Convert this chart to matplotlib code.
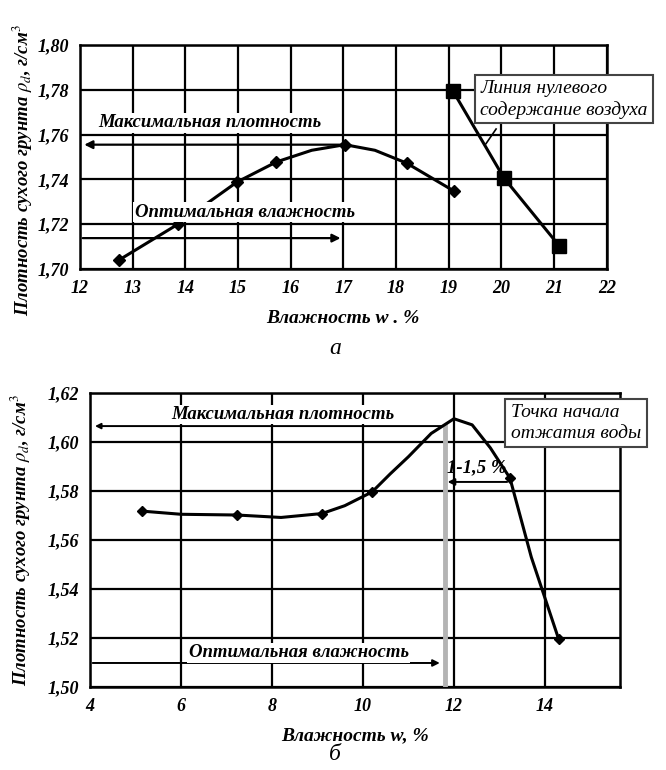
import matplotlib
matplotlib.use("Agg")
import matplotlib.pyplot as plt
from matplotlib.font_manager import FontProperties

plt.rcParams['font.family'] = ['Liberation Serif', 'DejaVu Serif']
plt.rcParams['mathtext.fontset'] = 'stix'

# ---- chart (а) data ----
w_a = [12.74, 13.86, 14.98, 15.73, 16.4, 17.03, 17.6, 18.2, 19.1]
rho_a = [1.704, 1.720, 1.7388, 1.7478, 1.7530, 1.7555, 1.7530, 1.7473, 1.7348]
marks_a = [0, 1, 2, 3, 5, 7, 8]
w_air = [19.08, 20.05, 21.1]
rho_air = [1.7795, 1.7406, 1.7103]
xticks_a = list(range(12, 23))
yticks_a = [1.70, 1.72, 1.74, 1.76, 1.78, 1.80]

# ---- chart (б) data ----
w_b = [5.14, 6.0, 7.23, 8.2, 9.1, 9.6, 10.2, 10.6, 11.0, 11.5, 12.0, 12.4, 12.8, 13.23, 13.7, 14.3]
rho_b = [1.5718, 1.5705, 1.5702, 1.5692, 1.5708, 1.574, 1.5796, 1.587, 1.594, 1.6035,
         1.6095, 1.607, 1.5976, 1.5853, 1.553, 1.5196]
marks_b = [0, 2, 4, 6, 13, 15]
xticks_b = [4, 6, 8, 10, 12, 14]
yticks_b = [1.50, 1.52, 1.54, 1.56, 1.58, 1.60, 1.62]

tickfp = FontProperties(family='Liberation Serif', weight='bold', style='italic', size=13)
lblfont = dict(fontweight='bold', fontstyle='italic', fontsize=13.5)
axfont = dict(fontweight='bold', fontstyle='italic', fontsize=13.5)
boxfont = dict(fontstyle='italic', fontsize=14)
white = dict(facecolor='white', edgecolor='none', pad=1)


def setup(ax, xt, yt, xlim, ylim):
    ax.set_xlim(*xlim)
    ax.set_ylim(*ylim)
    ax.set_xticks(xt)
    ax.set_yticks(yt)
    ax.set_xticklabels([str(v) for v in xt], fontproperties=tickfp)
    ax.set_yticklabels([f"{v:.2f}".replace('.', ',') for v in yt], fontproperties=tickfp)
    ax.tick_params(length=0, pad=8)
    ax.grid(True, color='black', linewidth=1.6)
    ax.set_axisbelow(True)
    for s in ax.spines.values():
        s.set_linewidth(1.8)


fig = plt.figure(figsize=(6.66, 7.70), dpi=100)

# ===== (а) =====
ax1 = fig.add_axes([0.120, 0.6506, 0.791, 0.291])
setup(ax1, xticks_a, yticks_a, (12, 22), (1.70, 1.80))
ax1.plot(w_a, rho_a, color='black', lw=2.2, marker='D', ms=6, markevery=marks_a, zorder=5)
ax1.plot(w_air, rho_air, color='black', lw=2.2, marker='s', ms=10, zorder=5)

ax1.annotate('', xy=(12.03, 1.7555), xytext=(17.03, 1.7555),
             arrowprops=dict(arrowstyle='-|>', color='black', lw=1.6, mutation_scale=12), zorder=4)
ax1.annotate('', xy=(17.0, 1.7138), xytext=(12.0, 1.7138),
             arrowprops=dict(arrowstyle='-|>', color='black', lw=1.6, mutation_scale=12), zorder=4)
ax1.text(14.46, 1.7652, 'Максимальная плотность', ha='center', va='center',
         bbox=white, zorder=6, **lblfont)
ax1.text(15.13, 1.7254, 'Оптимальная влажность', ha='center', va='center',
         bbox=white, zorder=6, **lblfont)
ax1.text(19.60, 1.7757, 'Линия нулевого\nсодержание воздуха', ha='left', va='center',
         linespacing=1.25, clip_on=False, zorder=7,
         bbox=dict(facecolor='white', edgecolor='#444444', lw=1.5, pad=3.5), **boxfont)
ax1.plot([19.90, 19.71], [1.7625, 1.7560], color='black', lw=1.2, zorder=6)

ax1.set_xlabel('Влажность w . %', labelpad=9, fontsize=14, fontweight='bold', fontstyle='italic')
ax1.set_ylabel(r'Плотность сухого грунта $\rho_d$, г/см$^3$', labelpad=10, **axfont)
ax1.yaxis.set_label_coords(-0.085, 0.44)
fig.text(0.503, 0.548, 'а', ha='center', va='center', fontsize=17, fontstyle='italic')

# ===== (б) =====
ax2 = fig.add_axes([0.135, 0.1078, 0.796, 0.3818])
setup(ax2, xticks_b, yticks_b, (4, 15.65), (1.50, 1.62))
ax2.plot(w_b, rho_b, color='black', lw=2.2, marker='D', ms=5, markevery=marks_b, zorder=5)

ax2.plot([11.8, 11.8], [1.50, 1.6065], color='#b4b4b4', lw=3.5, zorder=3)
ax2.annotate('', xy=(4.05, 1.6065), xytext=(11.8, 1.6065),
             arrowprops=dict(arrowstyle='-|>', color='black', lw=1.4, mutation_scale=8), zorder=4)
ax2.annotate('', xy=(11.75, 1.5098), xytext=(4.0, 1.5098),
             arrowprops=dict(arrowstyle='-|>', color='black', lw=1.4, mutation_scale=10), zorder=4)
ax2.annotate('', xy=(11.8, 1.5837), xytext=(13.23, 1.5837),
             arrowprops=dict(arrowstyle='-|>', color='black', lw=1.4, mutation_scale=10), zorder=4)
ax2.text(8.24, 1.6112, 'Максимальная плотность', ha='center', va='center',
         bbox=white, zorder=6, **lblfont)
ax2.text(8.59, 1.5139, 'Оптимальная влажность', ha='center', va='center',
         bbox=white, zorder=6, **lblfont)
ax2.text(12.5, 1.5895, '1-1,5 %', ha='center', va='center', fontsize=13.5,
         fontweight='bold', fontstyle='italic', zorder=6)
ax2.text(13.25, 1.6078, 'Точка начала\nотжатия воды', ha='left', va='center',
         linespacing=1.25, clip_on=False, zorder=7,
         bbox=dict(facecolor='white', edgecolor='#444444', lw=1.5, pad=4), **boxfont)

ax2.set_xlabel('Влажность w, %', labelpad=9, fontsize=14, fontweight='bold', fontstyle='italic')
ax2.set_ylabel(r'Плотность сухого грунта $\rho_d$, г/см$^3$', labelpad=10, **axfont)
fig.text(0.503, 0.02, 'б', ha='center', va='center', fontsize=17, fontstyle='italic')

fig.savefig('out.png', dpi=100)
